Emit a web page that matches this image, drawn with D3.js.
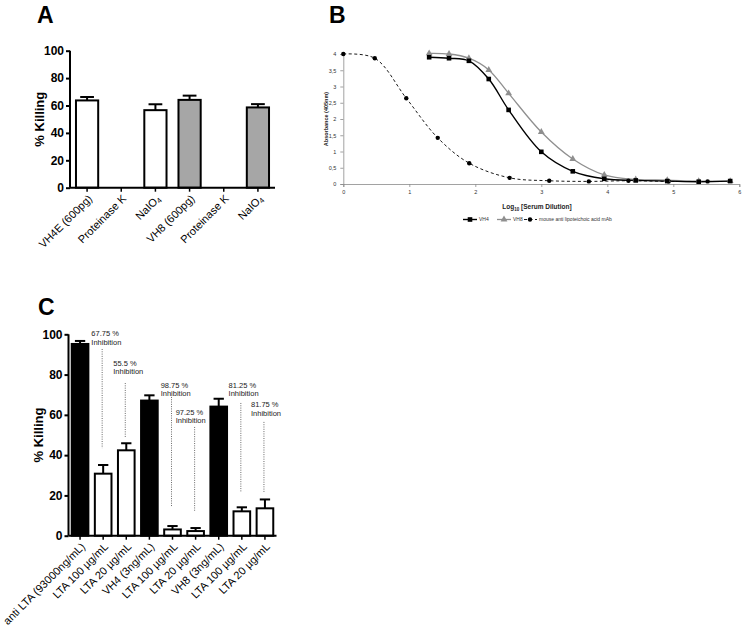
<!DOCTYPE html>
<html><head><meta charset="utf-8">
<script src="https://cdn.jsdelivr.net/npm/d3@7"></script>
<style>body{margin:0;background:#fff} svg{display:block}</style>
</head><body>
<svg id="fig" width="742" height="628"></svg>
<script>
// ---------- Panel A data ----------
const aCategories = ["VH4E (600pg)", "Proteinase K", "NaIO4", "VH8 (600pg)", "Proteinase K", "NaIO4"];
const aValues = [63.7, 0, 56.6, 64.1, 0, 58.6];
const aErrors = [2.5, 0, 4.3, 3.1, 0, 2.4];
const aFills = ["white", "white", "white", "gray", "gray", "gray"];
const aTicks = [0, 20, 40, 60, 80, 100];

// ---------- Panel B data ----------
const bX = [1.301, 1.602, 1.903, 2.204, 2.505, 3.0, 3.477, 3.954, 4.431, 4.908, 5.385, 5.862];
const bVH4 = [3.9, 3.87, 3.79, 3.23, 2.28, 0.99, 0.39, 0.16, 0.11, 0.09, 0.07, 0.09];
const bVH8 = [4.02, 4.0, 3.87, 3.51, 2.79, 1.6, 0.77, 0.28, 0.14, 0.12, 0.09, 0.09];
const bMabX = [0, 0.477, 0.954, 1.431, 1.908, 2.52, 3.12, 3.72, 4.32, 4.93, 5.52];
const bMab = [4.0, 3.87, 2.64, 1.42, 0.64, 0.19, 0.1, 0.08, 0.1, 0.08, 0.08];
const bXTicks = [0, 1, 2, 3, 4, 5, 6];
const bYTicks = [0, 0.5, 1, 1.5, 2, 2.5, 3, 3.5, 4];
const bSeriesNames = ["VH4", "VH8", "mouse anti lipoteichoic acid mAb"];

// ---------- Panel C data ----------
const cCategories = ["anti LTA (93000ng/mL)", "LTA 100 \u00b5g/mL", "LTA 20 \u00b5g/mL", "VH4 (3ng/mL)", "LTA 100 \u00b5g/mL", "LTA 20 \u00b5g/mL", "VH8 (3ng/mL)", "LTA 100 \u00b5g/mL", "LTA 20 \u00b5g/mL"];
const cValues = [95.2, 30.8, 42.4, 67.1, 3.1, 2.3, 64.1, 12.1, 13.6];
const cErrors = [1.5, 4.3, 3.5, 2.6, 1.7, 1.5, 3.9, 2.0, 4.4];
const cFills = ["black", "white", "white", "black", "white", "white", "black", "white", "white"];
const cTicks = [0, 20, 40, 60, 80, 100];
// inhibition annotations
const noteLabels = ["67.75 %", "55.5 %", "98.75 %", "97.25 %", "81.25 %", "81.75 %"];
const noteIndex = [1, 2, 4, 5, 7, 8];
const noteTop = [92.7, 75.8, 68.9, 54.0, 65.9, 56.5];
const noteBottom = [43.5, 48.5, 14.3, 12.3, 21.7, 21.2];
const noteTextY = [100.3, 85.6, 74.8, 61.3, 74.8, 65.2];
const noteDx = [-0.47, -0.52, -0.47, -0.82, -0.53, -0.56];

const svg = d3.select("#fig");
const FONT = "'Liberation Sans', Arial, Helvetica, sans-serif";

// panel letters
[["A", 37, 23], ["B", 329, 23], ["C", 38, 315]].forEach(([t, x, y]) => {
  svg.append("text").attr("x", x).attr("y", y).text(t)
    .attr("font-family", FONT).attr("font-weight", "bold").attr("font-size", 23);
});

function barPanel(opts) {
  const g = svg.append("g");
  const x = d3.scaleBand().domain(d3.range(opts.cats.length)).range([opts.x0, opts.x1]);
  const y = d3.scaleLinear().domain([0, 100]).range([opts.yBot, opts.yTop]);
  const bw = x.step() * opts.barFrac;
  const cw = bw * 0.62;
  // bars
  opts.values.forEach((v, i) => {
    if (v <= 0) return;
    const cx = x(i) + x.step() / 2;
    const fill = opts.fills[i] === "gray" ? "#a6a6a6" : opts.fills[i] === "black" ? "#000" : "#fff";
    // error bar
    g.append("line").attr("x1", cx).attr("x2", cx).attr("y1", y(v)).attr("y2", y(v + opts.errors[i]))
      .attr("stroke", "#000").attr("stroke-width", 2);
    g.append("line").attr("x1", cx - cw / 2).attr("x2", cx + cw / 2)
      .attr("y1", y(v + opts.errors[i])).attr("y2", y(v + opts.errors[i]))
      .attr("stroke", "#000").attr("stroke-width", 2);
    g.append("rect").attr("x", cx - bw / 2).attr("y", y(v)).attr("width", bw).attr("height", y(0) - y(v))
      .attr("fill", fill).attr("stroke", "#000").attr("stroke-width", 2);
  });
  // y axis
  const ya = g.append("g").attr("transform", `translate(${opts.x0},0)`)
    .call(d3.axisLeft(y).tickValues(opts.ticks).tickSize(4).tickPadding(2));
  ya.select(".domain").attr("stroke-width", 2).attr("d", `M0,${opts.yTop}V${opts.yBot}`);
  ya.selectAll(".tick line").attr("stroke-width", 2);
  ya.selectAll(".tick text").attr("font-family", FONT).attr("font-weight", "bold").attr("font-size", 12).attr("fill", "#000");
  // x axis
  const xa = g.append("g").attr("transform", `translate(0,${opts.yBot})`)
    .call(d3.axisBottom(x).tickSize(4).tickFormat(""));
  xa.select(".domain").attr("stroke-width", 2).attr("d", `M${opts.x0},0H${opts.x1}`);
  xa.selectAll(".tick line").attr("stroke-width", 1.5);
  // rotated labels
  opts.cats.forEach((c, i) => {
    const cx = x(i) + x.step() / 2;
    const t = g.append("text").attr("transform", `translate(${cx + 3},${opts.yBot + 9}) rotate(-45)`)
      .attr("text-anchor", "end").attr("dy", "0.35em")
      .attr("font-family", FONT).attr("font-size", 11).attr("fill", "#000");
    if (c === "NaIO4") {
      t.append("tspan").text("NaIO");
      t.append("tspan").text("4").attr("font-size", 7.5).attr("dy", 2);
    } else t.text(c);
  });
  // y title
  g.append("text").attr("transform", `translate(${opts.titleX},${(opts.yTop + opts.yBot) / 2}) rotate(-90)`)
    .attr("text-anchor", "middle").attr("font-family", FONT).attr("font-weight", "bold").attr("font-size", 13)
    .text("% Killing");
  return { x, y, g };
}

// ----- Panel A -----
barPanel({ cats: aCategories, values: aValues, errors: aErrors, fills: aFills, ticks: aTicks,
  x0: 70, x1: 275, yTop: 50.7, yBot: 187.7, barFrac: 0.65, titleX: 44 });

// ----- Panel C -----
const C = barPanel({ cats: cCategories, values: cValues, errors: cErrors, fills: cFills, ticks: cTicks,
  x0: 68.5, x1: 276.5, yTop: 334.3, yBot: 535.7, barFrac: 0.72, titleX: 43 });
noteLabels.forEach((lab, k) => {
  const i = noteIndex[k];
  const cx = C.x(i) + C.x.step() / 2 - 1;
  C.g.append("line").attr("x1", cx).attr("x2", cx).attr("y1", C.y(noteTop[k])).attr("y2", C.y(noteBottom[k]))
    .attr("stroke", "#444").attr("stroke-width", 0.8).attr("stroke-dasharray", "1,1.3");
  const tx = cx + noteDx[k] * C.x.step();
  const ty = C.y(noteTextY[k]);
  C.g.append("text").attr("x", tx).attr("y", ty).attr("dy", "0.35em").text(lab)
    .attr("font-family", FONT).attr("font-size", 7.5).attr("fill", "#222");
  C.g.append("text").attr("x", tx).attr("y", ty + 8.5).attr("dy", "0.35em").text("Inhibition")
    .attr("font-family", FONT).attr("font-size", 7.5).attr("fill", "#222");
});

// ----- Panel B -----
(function () {
  const g = svg.append("g");
  const x = d3.scaleLinear().domain([0, 6]).range([343.3, 739.3]);
  const y = d3.scaleLinear().domain([0, 4]).range([184, 54]);
  const fmt = d => String(d).replace(".", ",");
  const xa = g.append("g").attr("transform", `translate(0,${y(0)})`)
    .call(d3.axisBottom(x).tickValues(bXTicks).tickSize(3).tickPadding(3).tickFormat(fmt));
  const ya = g.append("g").attr("transform", `translate(${x(0)},0)`)
    .call(d3.axisLeft(y).tickValues(bYTicks).tickSize(3).tickPadding(4).tickFormat(fmt));
  [xa, ya].forEach(a => {
    a.selectAll(".domain,.tick line").attr("stroke", "#8a8a8a").attr("stroke-width", 0.8);
    a.selectAll(".tick text").attr("font-family", FONT).attr("font-size", 5.5).attr("fill", "#333");
  });
  const pts = (xs, ys) => xs.map((v, i) => [v, ys[i]]);
  const line = d3.line().x(d => x(d[0])).y(d => y(d[1])).curve(d3.curveCatmullRom.alpha(0.5));
  // mAb dashed
  g.append("path").attr("d", line(pts(bMabX, bMab))).attr("fill", "none")
    .attr("stroke", "#000").attr("stroke-width", 0.9).attr("stroke-dasharray", "3,2.5");
  // VH8
  g.append("path").attr("d", line(pts(bX, bVH8))).attr("fill", "none")
    .attr("stroke", "#8f8f8f").attr("stroke-width", 1.3);
  // VH4
  g.append("path").attr("d", line(pts(bX, bVH4))).attr("fill", "none")
    .attr("stroke", "#000").attr("stroke-width", 1.4);
  const tri = d3.symbol().type(d3.symbolTriangle).size(20);
  pts(bMabX, bMab).forEach(d => g.append("circle").attr("cx", x(d[0])).attr("cy", y(d[1])).attr("r", 2.2).attr("fill", "#000"));
  pts(bX, bVH8).forEach(d => g.append("path").attr("d", tri()).attr("transform", `translate(${x(d[0])},${y(d[1])})`).attr("fill", "#8f8f8f"));
  pts(bX, bVH4).forEach(d => g.append("rect").attr("x", x(d[0]) - 2.3).attr("y", y(d[1]) - 2.3).attr("width", 4.6).attr("height", 4.6).attr("fill", "#000"));
  // axis titles
  const xt = g.append("text").attr("x", 537).attr("y", 209).attr("text-anchor", "middle")
    .attr("font-family", FONT).attr("font-weight", "bold").attr("font-size", 6.5).attr("fill", "#222");
  xt.append("tspan").text("Log");
  xt.append("tspan").text("10").attr("font-size", 4.5).attr("dy", 1.5);
  xt.append("tspan").text(" [Serum Dilution]").attr("dy", -1.5);
  g.append("text").attr("transform", `translate(328,${(y(0) + y(4)) / 2}) rotate(-90)`).attr("text-anchor", "middle")
    .attr("font-family", FONT).attr("font-weight", "bold").attr("font-size", 5.5).attr("fill", "#222")
    .text("Absorbance (405nm)");
  // legend
  const ly = 219.5;
  const leg = g.append("g");
  leg.append("line").attr("x1", 463).attr("x2", 477).attr("y1", ly).attr("y2", ly).attr("stroke", "#000").attr("stroke-width", 1.4);
  leg.append("rect").attr("x", 470 - 2.3).attr("y", ly - 2.3).attr("width", 4.6).attr("height", 4.6).attr("fill", "#000");
  leg.append("line").attr("x1", 497).attr("x2", 511).attr("y1", ly).attr("y2", ly).attr("stroke", "#8f8f8f").attr("stroke-width", 1.3);
  leg.append("path").attr("d", tri()).attr("transform", `translate(504,${ly})`).attr("fill", "#8f8f8f");
  leg.append("line").attr("x1", 524).attr("x2", 537).attr("y1", ly).attr("y2", ly).attr("stroke", "#000").attr("stroke-width", 0.9).attr("stroke-dasharray", "3,2.5");
  leg.append("circle").attr("cx", 530).attr("cy", ly).attr("r", 2.2).attr("fill", "#000");
  [[479, 0], [513, 1], [539, 2]].forEach(([lx, k]) => {
    leg.append("text").attr("x", lx).attr("y", ly).attr("dy", "0.35em").text(bSeriesNames[k])
      .attr("font-family", FONT).attr("font-size", 5).attr("fill", "#333");
  });
})();
</script>
</body></html>
